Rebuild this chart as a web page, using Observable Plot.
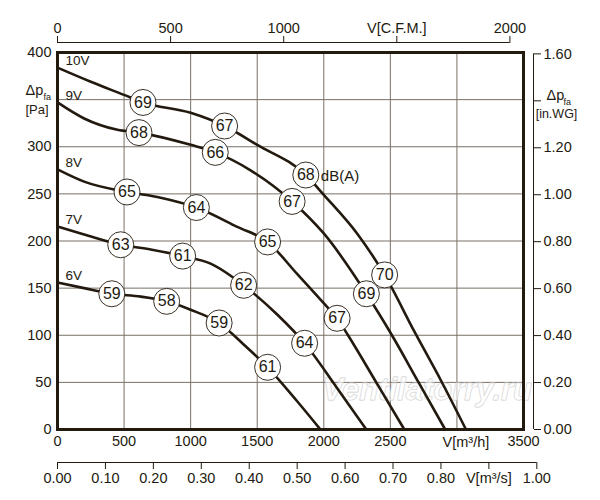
<!DOCTYPE html>
<html>
<head>
<meta charset="utf-8">
<script src="https://cdn.jsdelivr.net/npm/d3@7"></script>
<script src="https://cdn.jsdelivr.net/npm/@observablehq/plot@0.6"></script>
<style>
  body { margin: 0; background: #fff; }
</style>
</head>
<body>
<div id="chart"></div>
<script>
// ---- unit conversions ----
const M3H_PER_CFM = 1.699;
const PA_PER_INWG = 249.089;
const M3H_PER_M3S = 3600;

// ---- fan curves: [V m³/h, Δp Pa] ----
const volts = ["10V", "9V", "8V", "7V", "6V"];
const curve10V = [[0,384],[250,369],[500,355],[642,347],[1000,336],[1255,322],[1500,302],[1865,270],[2000,249],[2250,208],[2457,164],[2680,104],[2880,52],[3068,0]];
const curve9V  = [[0,347],[200,330],[450,318],[612,315],[1000,302],[1185,294],[1450,275],[1762,242],[2000,208],[2320,144],[2512,100],[2712,50],[2912,0]];
const curve8V  = [[0,276],[200,263],[522,252],[775,246],[1043,235.5],[1350,215],[1578,199],[1800,165],[2025,130],[2100,118],[2182,100],[2394,50],[2605,0]];
const curve7V  = [[0,215.5],[200,207],[475,196],[700,191],[940,184],[1150,176],[1398,153],[1650,122],[1856,91.5],[2090,46],[2320,0]];
const curve6V  = [[0,156],[200,150],[408,144],[625,141],[820,136],[1000,127],[1214,113],[1400,90],[1578,66],[1800,30],[1975,0]];

// ---- sound level markers: [V m³/h, Δp Pa, dB(A)] ----
const level10V = [[642,347,69],[1255,322,67],[1865,270,68],[2457,164,70]];
const level9V  = [[612,315,68],[1185,294,66],[1762,242,67],[2320,144,69]];
const level8V  = [[522,252,65],[1043,235.5,64],[1578,199,65],[2100,118,67]];
const level7V  = [[475,196,63],[940,184,61],[1398,153,62],[1856,91.5,64]];
const level6V  = [[408,144,59],[820,136,58],[1214,113,59],[1578,66,61]];

// ---- ticks ----
const flowTicks = [0,500,1000,1500,2000,2500,3000,3500];
const flowLabels = ["0","500","1000","1500","2000","2500","","3500"];
const flowUnit = "V[m³/h]";
const paTicks = [0,50,100,150,200,250,300,350,400];
const paLabels = ["0","50","100","150","200","250","300","","400"];
const cfmTicks = [0,500,1000,1500,2000];
const cfmLabels = ["0","500","1000","V[C.F.M.]","2000"];
const m3sTicks = [0,0.1,0.2,0.3,0.4,0.5,0.6,0.7,0.8,0.9,1.0];
const m3sLabels = ["0.00","0.10","0.20","0.30","0.40","0.50","0.60","0.70","0.80","V[m³/s]","1.00"];
const inwgTicks = [0,0.2,0.4,0.6,0.8,1.0,1.2,1.4,1.6];
const inwgLabels = ["0.00","0.20","0.40","0.60","0.80","1.00","1.20","","1.60"];
const gridFlow = [500,1000,1500,2000,2500,3000];
const gridPa = [50,100,150,200,250,300,350];

// ---- build tables ----
const curves = [curve10V, curve9V, curve8V, curve7V, curve6V];
const levels = [level10V, level9V, level8V, level7V, level6V];
const rows = [];
curves.forEach((c, i) => c.forEach(([q, p]) => rows.push({v: volts[i], q, p})));
const dots = [];
levels.forEach((l, i) => l.forEach(([q, p, db]) => dots.push({v: volts[i], q, p, db})));
const starts = curves.map((c, i) => ({v: volts[i], q: c[0][0], p: c[0][1]}));

const lab = (vals, labels) => { const m = new Map(vals.map((v, i) => [v, labels[i]])); return d => m.get(d) ?? ""; };
const cfmPos = cfmTicks.map(d => d * M3H_PER_CFM);
const m3sPos = m3sTicks.map(d => d * M3H_PER_M3S);
const inwgPos = inwgTicks.map(d => d * PA_PER_INWG);

const INK = "#231a0f";
const GRID = "#7a7067";
const FONT = "'Liberation Sans', Arial, sans-serif";

const chart = Plot.plot({
  width: 600,
  height: 500,
  marginLeft: 57,
  marginRight: 77,
  marginTop: 52,
  marginBottom: 71,
  style: {fontFamily: FONT, color: INK, background: "white", overflow: "visible"},
  x: {domain: [0, 3500], axis: null},
  y: {domain: [0, 400], axis: null},
  marks: [
    Plot.ruleX(gridFlow, {stroke: GRID, strokeWidth: 1}),
    Plot.ruleY(gridPa, {stroke: GRID, strokeWidth: 1}),
    Plot.text(["Ventilatorry.ru"], {x: 2777, y: 42, fontSize: 31, fontStyle: "italic", fontWeight: "bold", fill: "white", fillOpacity: 0.6, stroke: "#cdcdcd", strokeWidth: 0.9}),
    Plot.line(rows, {x: "q", y: "p", z: "v", curve: "monotone-x", stroke: INK, strokeWidth: 2.6}),
    Plot.frame({stroke: INK, strokeWidth: 3}),
    Plot.dot(dots, {x: "q", y: "p", r: 13, fill: "white", stroke: INK, strokeWidth: 0.9}),
    Plot.text(dots, {x: "q", y: "p", text: d => String(d.db), fontSize: 16, fill: INK}),
    Plot.text(starts, {x: "q", y: "p", text: "v", textAnchor: "start", dx: 8, dy: -7, fontSize: 13.5, fill: INK}),
    Plot.text([level10V[2]], {x: d => d[0], y: d => d[1], text: ["dB(A)"], textAnchor: "start", dx: 15, dy: 1, fontSize: 15, fill: INK}),
    // left axis
    Plot.axisY(paTicks, {anchor: "left", tickSize: 0, tickPadding: 6, tickFormat: lab(paTicks, paLabels), fontSize: 14.5, label: null}),
    Plot.text(["Δp"], {x: 0, y: 350, dx: -32, dy: -9, textAnchor: "start", fontSize: 14.5, fill: INK}),
    Plot.text(["fa"], {x: 0, y: 350, dx: -14, dy: -3, textAnchor: "start", fontSize: 9, fill: INK}),
    Plot.text(["[Pa]"], {x: 0, y: 350, dx: -32, dy: 10, textAnchor: "start", fontSize: 13, fill: INK}),
    // bottom axis (m³/h)
    Plot.axisX(flowTicks, {anchor: "bottom", tickSize: 0, tickPadding: 6, tickFormat: lab(flowTicks, flowLabels), fontSize: 14.5, label: null}),
    Plot.text([3000], {x: d => d, y: 0, text: [flowUnit], dx: 9, dy: 13, fontSize: 14.5, fill: INK}),
    // bottom axis (m³/s)
    Plot.ruleY([0], {x1: 0, x2: M3H_PER_M3S, dy: 33, stroke: INK, strokeWidth: 1}),
    Plot.axisX(m3sPos, {anchor: "bottom", dy: 33, tickSize: 7, tickPadding: 3, tickFormat: lab(m3sPos, m3sLabels), fontSize: 14.5, label: null}),
    // top axis (CFM)
    Plot.ruleY([400], {x1: 0, x2: cfmPos[cfmPos.length - 1], dy: -10, stroke: INK, strokeWidth: 1}),
    Plot.axisX(cfmPos, {anchor: "top", dy: -10, tickSize: 7, tickPadding: 3, tickFormat: lab(cfmPos, cfmLabels), fontSize: 14.5, label: null}),
    // right axis (in.WG)
    Plot.ruleX([3500], {y1: 0, y2: inwgPos[inwgPos.length - 1], dx: 10, stroke: INK, strokeWidth: 1}),
    Plot.axisY(inwgPos, {anchor: "right", dx: 10, tickSize: 7, tickPadding: 3, tickFormat: lab(inwgPos, inwgLabels), fontSize: 14.5, label: null}),
    Plot.text(["Δp"], {x: 3500, y: 1.4 * PA_PER_INWG, dx: 23, dy: -5, textAnchor: "start", fontSize: 14.5, fill: INK}),
    Plot.text(["fa"], {x: 3500, y: 1.4 * PA_PER_INWG, dx: 40, dy: 1, textAnchor: "start", fontSize: 9, fill: INK}),
    Plot.text(["[in.WG]"], {x: 3500, y: 1.4 * PA_PER_INWG, dx: 33, dy: 13, fontSize: 12.5, fill: INK})
  ]
});
document.getElementById("chart").appendChild(chart);
</script>
</body>
</html>
